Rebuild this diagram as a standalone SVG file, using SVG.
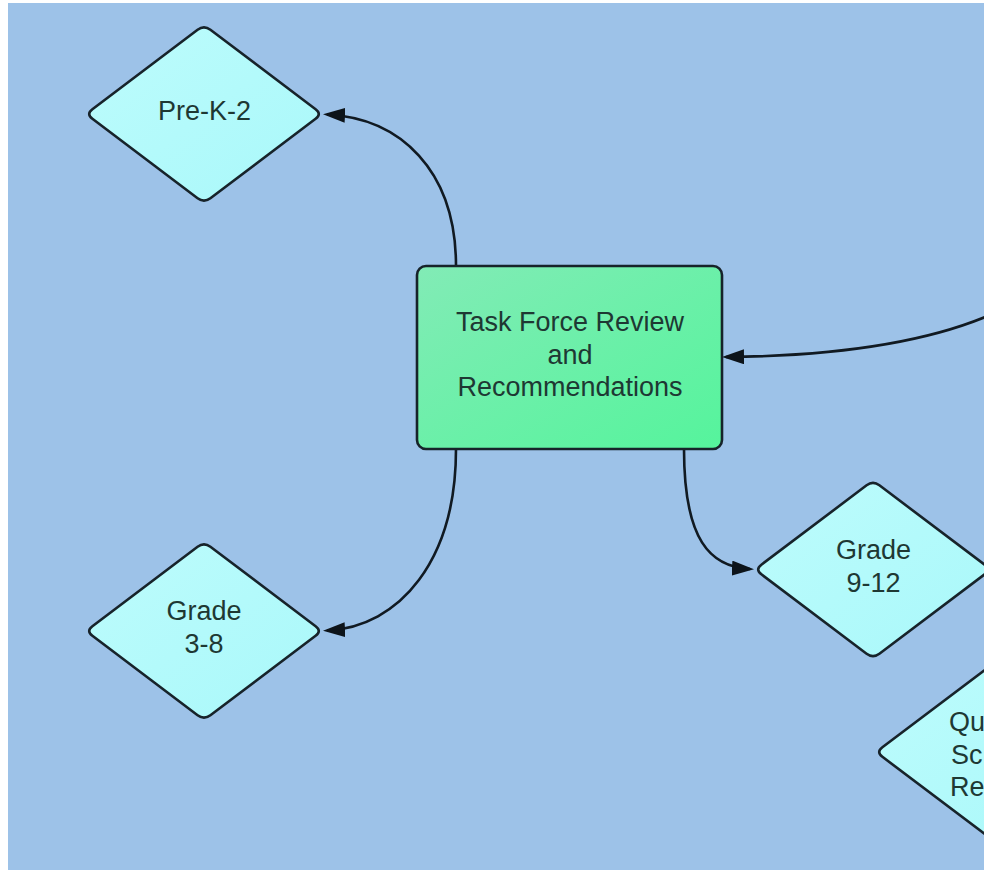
<svg xmlns="http://www.w3.org/2000/svg" width="984" height="873" viewBox="0 0 984 873">
<style>
.bg{fill:#9dc2e8}
.dia{fill:url(#gDia);stroke:#17232a;stroke-width:2.6;stroke-linejoin:round}
.box{fill:url(#gBox);stroke:#17232a;stroke-width:2.6}
.lbl{font-family:"Liberation Sans",Arial,sans-serif;font-size:27px;fill:#1e3833;text-anchor:middle}
.lbl.start{text-anchor:start}
.conn{fill:none;stroke:#111a22;stroke-width:2.6;marker-end:url(#arrow)}
</style>
<defs>
<linearGradient id="gDia" x1="0" y1="0" x2="1" y2="1">
<stop offset="0" stop-color="#bdfcfc"/>
<stop offset="1" stop-color="#a9f8fa"/>
</linearGradient>
<linearGradient id="gBox" x1="0" y1="0" x2="1" y2="1">
<stop offset="0" stop-color="#82ebb6"/>
<stop offset="1" stop-color="#55f49c"/>
</linearGradient>
<path id="diamond" d="M-111.6,-4.8 L-6.4,-84.2 Q0,-89 6.4,-84.2 L111.6,-4.8 Q118,0 111.6,4.8 L6.4,84.2 Q0,89 -6.4,84.2 L-111.6,4.8 Q-118,0 -111.6,-4.8 Z"/>
<marker id="arrow" markerUnits="userSpaceOnUse" viewBox="0 0 22 15" refX="18" refY="7.5" markerWidth="22" markerHeight="15" orient="auto">
<path d="M0,0 L22,7.5 L0,15 Z" fill="#0d141a"/>
</marker>
</defs>
<rect x="0" y="0" width="984" height="873" fill="#ffffff"/>
<rect class="bg" x="8" y="3" width="976" height="867"/>

<g id="connectors">
<path class="conn" d="M456,266 C456,170 400,118 327,114.5"/>
<path class="conn" d="M456,449 C456,560 400,627 327,630.5"/>
<path class="conn" d="M684,449 C684,540 710,567 750,569"/>
<path class="conn" d="M990,315 C920,345 830,356 726,357"/>
</g>

<g id="node-prek2">
<use href="#diamond" class="dia" transform="translate(204,114)"/>
<text class="lbl" x="204.5" y="119.5">Pre-K-2</text>
</g>

<g id="node-grade38">
<use href="#diamond" class="dia" transform="translate(204,631)"/>
<text class="lbl" x="204" y="619.5">Grade</text>
<text class="lbl" x="204" y="652.5">3-8</text>
</g>

<g id="node-grade912">
<use href="#diamond" class="dia" transform="translate(873,569.5)"/>
<text class="lbl" x="873.5" y="558.5">Grade</text>
<text class="lbl" x="873.5" y="591.5">9-12</text>
</g>

<g id="node-quality">
<use href="#diamond" class="dia" transform="translate(994,752)"/>
<text class="lbl start" x="949" y="731">Qu</text>
<text class="lbl start" x="951" y="763.5">Sc</text>
<text class="lbl start" x="950" y="796">Re</text>
</g>

<g id="node-taskforce">
<rect class="box" x="417" y="266" width="305" height="183" rx="9" ry="9"/>
<text class="lbl" x="570" y="331">Task Force Review</text>
<text class="lbl" x="570" y="363.5">and</text>
<text class="lbl" x="570" y="396">Recommendations</text>
</g>
</svg>
